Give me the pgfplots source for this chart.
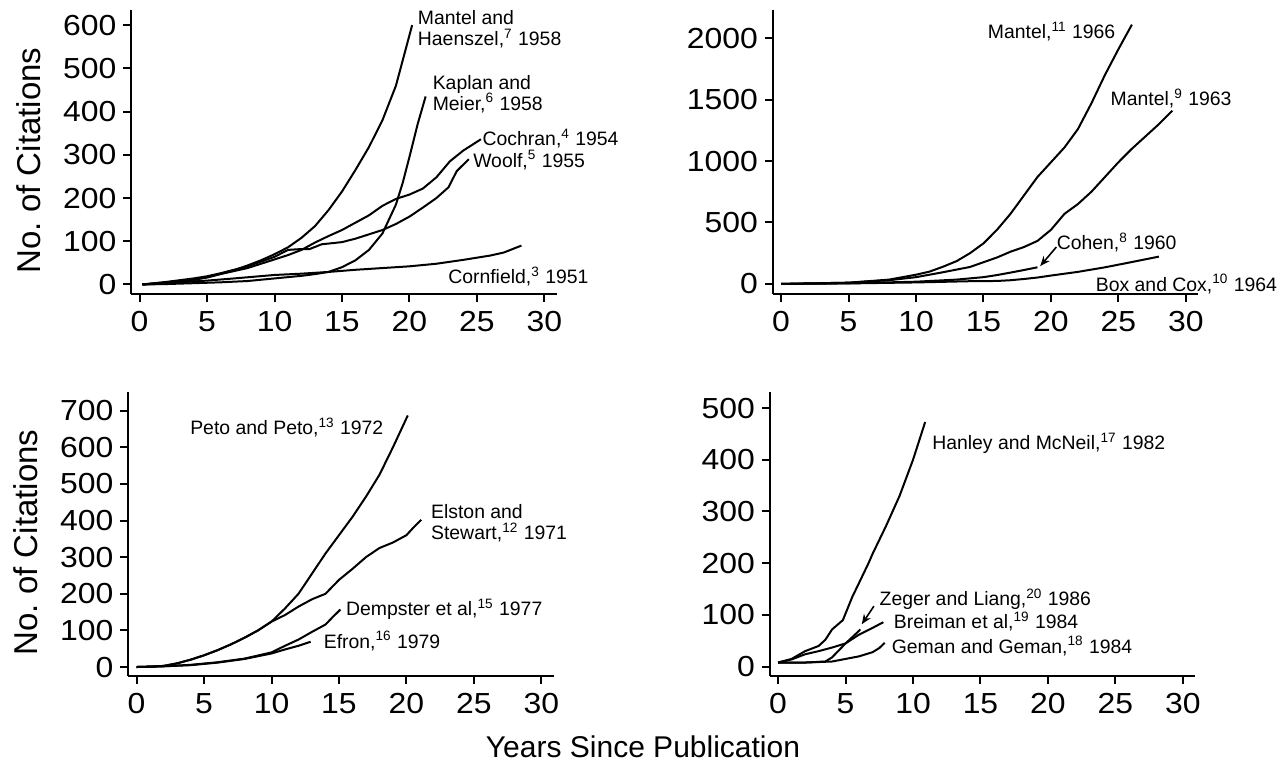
\documentclass[border=0pt]{standalone}
\usepackage{fontspec}
\setmainfont{Liberation Sans}
\newfontfamily\tickfont[FakeStretch=1.1]{Liberation Sans}
\usepackage{pgfplots}
\pgfplotsset{compat=1.18}
\usetikzlibrary{arrows.meta}

% common look of the four panels
\pgfplotsset{
  panel/.style={
    scale only axis, width=212.5pt, height=142pt,
    xmin=-0.6, xmax=30.9,
    axis lines*=left,
    axis line style={line width=1pt},
    tick align=outside, major tick length=4pt,
    tick style={line width=1pt, black},
    xtick={0,5,...,30},
    tick label style={font=\fontsize{14.5}{16}\tickfont},
    xticklabel style={yshift=-1pt},
    /pgf/number format/assume math mode=true,
    /pgf/number format/1000 sep={},
    scaled y ticks=false,
    ylabel style={at={(axis description cs:-0.243,0.47)}, anchor=center,
      font=\fontsize{16.5}{18}\selectfont},
    cycle list={{black}},
    every axis plot/.append style={line width=1pt, no marks},
    clip=false,
  },
}
\tikzset{lbl/.style={font=\fontsize{9.7}{10.5}\selectfont, anchor=west, inner sep=0pt, align=left}}

\begin{document}
\begin{tikzpicture}
\useasboundingbox (0,0) rectangle (639pt,382pt);

% ---------- top left
\begin{axis}[panel, at={(65.75pt,235pt)}, ymin=-22, ymax=635,
  ytick={0,100,...,600}, ylabel={No.\ of Citations}]
  % Mantel and Haenszel
  \addplot coordinates {(0.2,0) (2,4) (4,10) (5,17) (6,25) (7,33) (8,44) (9,56) (10,70)
    (11,86) (12,108) (13,135) (14,172) (15,215) (16,265) (17,318) (18,380) (19,460)
    (19.6,530) (20.2,600)};
  % Kaplan and Meier
  \addplot coordinates {(0.2,0) (2,1) (4,3) (6,5) (8,8) (10,14) (12,20) (13,24) (14,29)
    (15,40) (16,56) (17,80) (18,118) (19,185) (19.5,235) (20,295) (20.6,370) (21.2,435)};
  % Cochran
  \addplot coordinates {(0.2,0) (2,5) (4,12) (5,16) (6,24) (8,38) (10,58) (11,68) (12,80)
    (13,97) (14,112) (15,126) (16,143) (17,160) (18,182) (19,198) (20,208) (21,222)
    (22,248) (23,285) (24,310) (25.3,336)};
  % Woolf
  \addplot coordinates {(0.2,0) (2,6) (4,14) (5,19) (6,26) (8,42) (10,64) (11,80) (12,82)
    (12.6,82) (13.5,93) (15,98) (16,106) (17,116) (18,126) (19,140) (20,157) (21,178)
    (22,200) (22.9,225) (23.5,262) (24.4,290)};
  % Cornfield
  \addplot coordinates {(0.2,0) (3,5) (5,9) (7,14) (10,22) (12,25) (14,29) (16,34) (18,38)
    (20,42) (22,48) (24,57) (26,67) (27,74) (28.3,90)};
  \node[lbl] at (axis cs:20.6,591) {Mantel and\\Haenszel,\textsuperscript{7} 1958};
  \node[lbl] at (axis cs:21.7,441) {Kaplan and\\Meier,\textsuperscript{6} 1958};
  \node[lbl] at (axis cs:25.4,337) {Cochran,\textsuperscript{4} 1954};
  \node[lbl] at (axis cs:24.7,288) {Woolf,\textsuperscript{5} 1955};
  \node[lbl] at (axis cs:22.85,19) {Cornfield,\textsuperscript{3} 1951};
\end{axis}

% ---------- top right
\begin{axis}[panel, at={(386.5pt,235pt)}, ymin=-82, ymax=2229,
  ytick={0,500,...,2000}]
  % Mantel 1966
  \addplot coordinates {(0,0) (5,10) (8,35) (9,55) (10,75) (11,100) (12,140) (13,185)
    (14,250) (15,330) (16,440) (17,570) (18,720) (19,870) (20,990) (21,1110) (22,1260)
    (23,1470) (24,1700) (25,1910) (26,2110)};
  % Mantel 1963
  \addplot coordinates {(0,0) (5,10) (8,30) (10,55) (12,95) (14,138) (16,215) (17,262)
    (18,300) (19,350) (20,440) (21,570) (22,650) (23,750) (24,870) (25,990) (26,1100)
    (27,1200) (28,1300) (29,1410)};
  % Cohen
  \addplot coordinates {(0,0) (5,5) (10,18) (13,35) (15,55) (16,72) (17,92) (18,113) (19,135)};
  % Box and Cox
  \addplot coordinates {(0,0) (5,4) (10,12) (14,22) (16,24) (17,30) (18,40) (19,52) (20,68)
    (22,98) (24,135) (26,178) (28,222)};
  \node[lbl] at (axis cs:15.3,2055) {Mantel,\textsuperscript{11} 1966};
  \node[lbl] at (axis cs:24.4,1510) {Mantel,\textsuperscript{9} 1963};
  \node[lbl] at (axis cs:20.4,340) {Cohen,\textsuperscript{8} 1960};
  \draw[line width=0.8pt, -{Stealth[length=5pt,width=4pt]}] (axis cs:20.4,300) -- (axis cs:19.2,145);
  \node[lbl] at (axis cs:23.3,0) {Box and Cox,\textsuperscript{10} 1964};
\end{axis}

% ---------- bottom left
\begin{axis}[panel, at={(64.25pt,44pt)}, ymin=-24.5, ymax=751,
  ytick={0,100,...,700}, ylabel={No.\ of Citations}]
  % Peto and Peto
  \addplot coordinates {(0,0) (1,1) (2,3) (3,10) (4,20) (5,32) (6,46) (7,62) (8,80) (9,100)
    (10,124) (11,160) (12,200) (13,255) (14,310) (15,360) (16,410) (17,465) (18,525)
    (19,600) (20.1,687)};
  % Elston and Stewart
  \addplot coordinates {(0,0) (1,1) (2,3) (3,10) (4,20) (5,32) (6,46) (7,62) (8,80) (9,100)
    (10,124) (11,142) (12,165) (13,185) (14,200) (15,238) (16,268) (17,300) (18,325)
    (19,340) (20,360) (20.5,380) (21.1,402)};
  % Dempster et al
  \addplot coordinates {(0,0) (2,2) (4,6) (6,13) (8,23) (10,40) (11,58) (12,75) (13,96)
    (14,116) (14.5,135) (15.1,157)};
  % Efron
  \addplot coordinates {(0,0) (2,2) (4,5) (6,12) (8,22) (10,37) (11,48) (12,58) (12.9,69)};
  \node[lbl] at (axis cs:3.95,655) {Peto and Peto,\textsuperscript{13} 1972};
  \node[lbl] at (axis cs:21.8,392) {Elston and\\Stewart,\textsuperscript{12} 1971};
  \node[lbl] at (axis cs:15.5,157) {Dempster et al,\textsuperscript{15} 1977};
  \node[lbl] at (axis cs:13.85,71) {Efron,\textsuperscript{16} 1979};
\end{axis}

% ---------- bottom right
\begin{axis}[panel, at={(385pt,44pt)}, ymin=-18, ymax=531,
  ytick={0,100,...,500}]
  % Hanley and McNeil
  \addplot coordinates {(0,8) (1,15) (2,30) (3,40) (3.5,52) (4,72) (4.8,90) (5.5,135)
    (6,162) (6.7,200) (7,218) (8,272) (9,330) (10,400) (10.9,473)};
  % Breiman et al
  \addplot coordinates {(0,8) (1,14) (2,24) (3,30) (4,37) (5,45) (6,62) (7,75) (7.8,86)};
  % Zeger and Liang
  \addplot coordinates {(0,8) (2,8) (3.5,10) (4,18) (5,45) (5.7,62) (6.1,72)};
  % Geman and Geman
  \addplot coordinates {(0,8) (2,8) (4,10) (5,15) (6,20) (7,28) (7.5,36) (7.9,46)};
  \node[lbl] at (axis cs:11.4,432) {Hanley and McNeil,\textsuperscript{17} 1982};
  \node[lbl] at (axis cs:7.5,130) {Zeger and Liang,\textsuperscript{20} 1986};
  \draw[line width=0.8pt, -{Stealth[length=5pt,width=4pt]}] (axis cs:7.1,117) -- (axis cs:6.2,82);
  \node[lbl] at (axis cs:8.55,88) {Breiman et al,\textsuperscript{19} 1984};
  \node[lbl] at (axis cs:8.4,40) {Geman and Geman,\textsuperscript{18} 1984};
\end{axis}

\node[anchor=base, font=\fontsize{15}{17}\selectfont] at (321.5pt,3pt) {Years Since Publication};
\end{tikzpicture}
\end{document}
